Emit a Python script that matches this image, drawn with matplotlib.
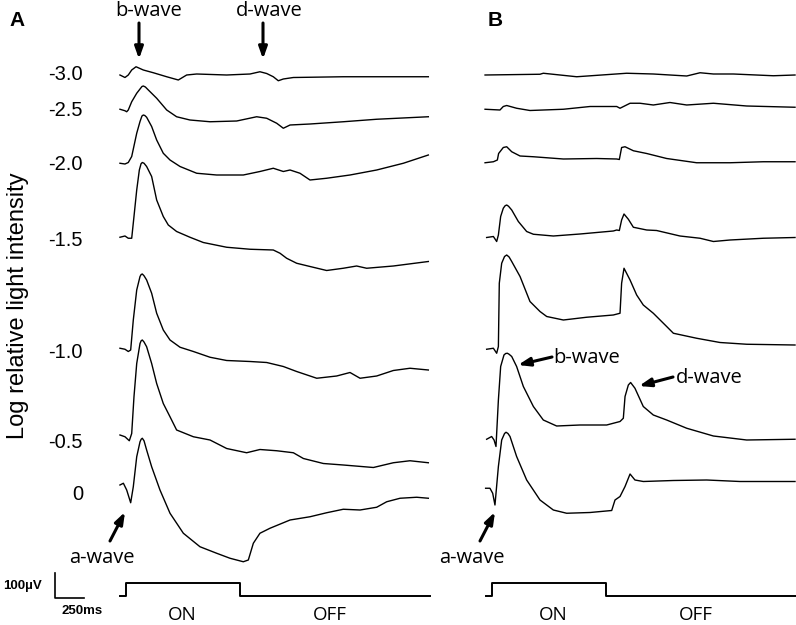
import matplotlib.pyplot as plt

plt.rcParams['font.family'] = ['Liberation Sans', 'DejaVu Sans']

W, H = 796, 625
PX_MS = 0.114   # px per ms
PX_UV = 0.25    # px per uV

intensity = ['-3.0', '-2.5', '-2.0', '-1.5', '-1.0', '-0.5', '0']

# panel A: time (ms from flash onset), response (uV from pre-flash level)
a1_t = [-53, -9, 20, 50, 88, 152, 240, 357, 459, 532, 620, 883, 1088, 1175, 1234, 1292, 1336, 1380, 1468, 1906, 2652]
a1_v = [3, -7, 3, 23, 36, 23, 12, -4, -17, 3, 7, 3, 7, 16, 9, -4, -20, -13, -7, -4, -4]
a2_t = [-53, -9, 6, 20, 50, 94, 140, 152, 170, 196, 269, 357, 444, 561, 737, 971, 1146, 1234, 1322, 1380, 1439, 1614, 1906, 2199, 2652]
a2_v = [3, -3, -7, 0, 33, 67, 94, 96, 92, 80, 47, 0, -27, -40, -47, -44, -27, -33, -53, -73, -60, -56, -47, -37, -27]
a3_t = [-53, -9, 20, 50, 94, 123, 140, 152, 165, 181, 225, 269, 327, 386, 474, 620, 795, 1029, 1175, 1292, 1380, 1439, 1526, 1614, 1760, 1965, 2199, 2433, 2652]
a3_v = [0, -3, 3, 27, 120, 167, 189, 193, 191, 184, 147, 93, 40, 13, -13, -40, -47, -47, -33, -20, -33, -27, -40, -67, -60, -47, -27, 0, 33]
a4_t = [-53, -9, 20, 50, 70, 94, 117, 132, 143, 158, 181, 225, 269, 327, 371, 444, 561, 678, 883, 1088, 1292, 1351, 1409, 1497, 1614, 1760, 1906, 2023, 2111, 2345, 2652]
a4_v = [0, 5, -4, -4, 83, 189, 269, 294, 299, 296, 283, 243, 149, 83, 49, 23, 0, -21, -40, -48, -51, -64, -84, -104, -117, -133, -124, -115, -124, -115, -97]
a5_t = [-53, -9, 20, 41, 64, 94, 123, 133, 143, 158, 181, 225, 269, 327, 386, 474, 591, 737, 883, 1088, 1234, 1380, 1497, 1673, 1848, 1965, 2053, 2199, 2345, 2491, 2652]
a5_v = [4, 0, -9, -3, 117, 237, 291, 299, 301, 294, 277, 224, 144, 77, 37, 8, -9, -32, -45, -49, -53, -69, -89, -116, -107, -93, -116, -107, -85, -76, -83]
a6_t = [-53, -9, 29, 50, 70, 94, 123, 133, 143, 158, 181, 225, 269, 327, 386, 444, 591, 737, 883, 1058, 1175, 1322, 1468, 1556, 1731, 1906, 2170, 2345, 2491, 2652]
a6_v = [7, 0, -16, 13, 160, 293, 373, 384, 387, 379, 360, 293, 213, 133, 80, 27, 0, -13, -47, -64, -51, -56, -64, -87, -107, -113, -123, -104, -96, -104]
a7_t = [-53, -23, 6, 41, 64, 94, 123, 133, 143, 158, 181, 225, 298, 386, 503, 649, 795, 912, 1029, 1073, 1117, 1175, 1263, 1439, 1614, 1760, 1906, 2053, 2199, 2287, 2404, 2550, 2652]
a7_v = [0, 7, -20, -71, -7, 113, 173, 183, 187, 177, 140, 73, -20, -113, -193, -247, -273, -293, -307, -300, -233, -193, -173, -140, -127, -111, -97, -100, -89, -67, -53, -49, -53]

# panel B
b1_t = [-61, 421, 450, 743, 1181, 1415, 1708, 1825, 1942, 2117, 2468, 2658]
b1_v = [0, 3, 7, -7, 7, 4, -4, 9, 4, 4, -3, 0]
b2_t = [-61, 70, 99, 129, 216, 333, 626, 860, 1094, 1123, 1211, 1298, 1415, 1561, 1708, 1942, 2234, 2658]
b2_v = [0, -3, 11, 15, 4, -5, 0, 11, 11, 4, 24, 24, 17, 27, 17, 24, 13, 8]
b3_t = [-61, 12, 47, 58, 99, 129, 173, 246, 363, 626, 918, 1094, 1117, 1137, 1167, 1240, 1357, 1532, 1795, 2088, 2380, 2658]
b3_v = [-4, 0, 7, 33, 57, 60, 40, 23, 20, 11, 13, 11, 9, 57, 60, 44, 33, 13, -4, -4, 0, 0]
b4_t = [-47, 12, 41, 56, 76, 99, 115, 129, 145, 173, 231, 304, 363, 538, 772, 1064, 1094, 1117, 1137, 1158, 1196, 1240, 1357, 1444, 1649, 1825, 1942, 2088, 2380, 2658]
b4_v = [3, 7, -13, 13, 87, 120, 130, 133, 128, 113, 67, 27, 16, 9, 17, 29, 33, 31, 73, 97, 76, 44, 33, 31, 9, 0, -13, -7, 0, 3]
b5_t = [-47, 12, 41, 56, 64, 85, 110, 129, 150, 173, 246, 333, 421, 480, 626, 830, 1064, 1123, 1137, 1158, 1211, 1269, 1327, 1415, 1532, 1591, 1795, 2000, 2234, 2658]
b5_v = [0, 4, -16, 11, 264, 344, 371, 377, 369, 351, 291, 191, 151, 131, 117, 128, 137, 144, 264, 324, 277, 217, 177, 144, 91, 64, 44, 27, 20, 17]
b6_t = [-47, -3, 18, 35, 56, 76, 105, 120, 135, 150, 173, 216, 275, 363, 450, 567, 772, 1006, 1123, 1152, 1167, 1196, 1216, 1254, 1327, 1415, 1532, 1708, 1942, 2234, 2658]
b6_v = [-4, 7, -7, -33, 153, 287, 333, 339, 340, 336, 327, 287, 207, 127, 73, 49, 53, 53, 67, 80, 167, 213, 223, 200, 127, 93, 73, 40, 9, -7, -4]
b7_t = [-56, -18, 6, 26, 56, 85, 110, 123, 140, 158, 216, 304, 421, 538, 655, 860, 1050, 1079, 1123, 1167, 1211, 1254, 1327, 1591, 1883, 2175, 2658]
b7_v = [0, 0, -20, -67, 87, 193, 219, 224, 219, 207, 127, 33, -47, -87, -100, -97, -89, -47, -33, 7, 57, 33, 27, 31, 33, 27, 27]

# light stimulus (ms), on/off
stim_t = [-55, 0, 0, 1000, 1000, 2665]
stim_on = [0, 0, 1, 1, 0, 0]

scale_ms = 250
scale_uv = 100

# vertical offsets of traces on the page (uV units)
base_a = [2197, 2060, 1847, 1551, 1103, 753, 560]
base_b = [2200, 2063, 1853, 1547, 1103, 747, 547]
stim_base, stim_h = 116, 52


def fp(x, y):
    return x / W, 1 - y / H


fig = plt.figure(figsize=(W / 100, H / 100), dpi=100)
axA = fig.add_axes([0, 0, 440 / W, 1])
axB = fig.add_axes([440 / W, 0, 356 / W, 1])
axA.set_xlim(-126 / PX_MS, (440 - 126) / PX_MS)
axB.set_xlim((440 - 492) / PX_MS, (796 - 492) / PX_MS)
for ax in (axA, axB):
    ax.set_ylim(0, H / PX_UV)
    ax.axis('off')

tr_a = [(a1_t, a1_v), (a2_t, a2_v), (a3_t, a3_v), (a4_t, a4_v), (a5_t, a5_v), (a6_t, a6_v), (a7_t, a7_v)]
tr_b = [(b1_t, b1_v), (b2_t, b2_v), (b3_t, b3_v), (b4_t, b4_v), (b5_t, b5_v), (b6_t, b6_v), (b7_t, b7_v)]
for (t, v), b in zip(tr_a, base_a):
    axA.plot(t, [b + x for x in v], color='black', lw=1.0)
for (t, v), b in zip(tr_b, base_b):
    axB.plot(t, [b + x for x in v], color='black', lw=1.0)

for ax in (axA, axB):
    ax.plot(stim_t, [stim_base + s * stim_h for s in stim_on], color='black', lw=1.4)

# scale bar
sx = (55 - 126) / PX_MS
axA.plot([sx, sx, sx + scale_ms], [stim_base - 8 + scale_uv, stim_base - 8, stim_base - 8], color='black', lw=1.2, clip_on=False)
fig.text(*fp(22, 586), '100µV', fontsize=9.5, fontweight='bold', ha='center', va='center')
fig.text(*fp(82, 611), '250ms', fontsize=9.5, fontweight='bold', ha='center', va='center')

# intensity labels
lab_y = [75, 110, 164, 240, 353, 443, 494]
for s, y in zip(intensity, lab_y):
    fig.text(*fp(83, y), s, fontsize=14.5, ha='right', va='center')
fig.text(*fp(18, 306), 'Log relative light intensity', fontsize=17, rotation=90, ha='center', va='center')

fig.text(*fp(17, 20), 'A', fontsize=15, fontweight='bold', ha='center', va='center')
fig.text(*fp(495, 20), 'B', fontsize=15, fontweight='bold', ha='center', va='center')

sans = ['Open Sans', 'DejaVu Sans']
for s, x, y in [('b-wave', 149, 11), ('d-wave', 269, 11), ('a-wave', 102, 558),
                ('a-wave', 472, 558), ('b-wave', 587, 358), ('d-wave', 709, 378)]:
    fig.text(*fp(x, y), s, fontsize=14.5, family=sans, ha='center', va='center')
for s, x in [('ON', 182), ('OFF', 330), ('ON', 553), ('OFF', 696)]:
    fig.text(*fp(x, 615), s, fontsize=13.5, family=sans, ha='center', va='center')

arrows = [((139, 23), (139, 59)), ((263, 23), (263, 59)), ((110, 541), (125, 512)),
          ((480, 541), (495, 512)), ((552, 357), (518, 365)), ((673, 377), (639, 386))]
for tail, head in arrows:
    axA.annotate('', xy=fp(*head), xytext=fp(*tail), xycoords='figure fraction',
                 textcoords='figure fraction', annotation_clip=False,
                 arrowprops=dict(arrowstyle='-|>,head_length=0.7,head_width=0.25',
                                 lw=2.2, color='black', shrinkA=0, shrinkB=0))

fig.savefig('out.png', dpi=100)
